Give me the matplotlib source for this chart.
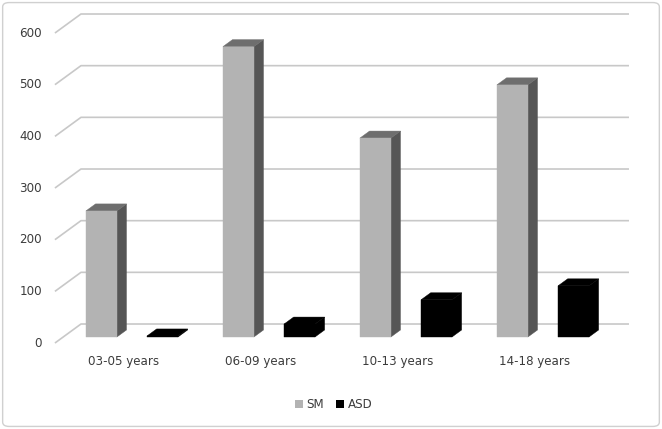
import matplotlib
matplotlib.use('Agg')
import matplotlib.pyplot as plt
from matplotlib.patches import Polygon, Rectangle, Patch, FancyBboxPatch

# 数据
categories = ['03-05 years', '06-09 years', '10-13 years', '14-18 years']
sm_values = [244, 562, 385, 488]
asd_values = [2, 25, 72, 99]
y_ticks = [0, 100, 200, 300, 400, 500, 600]

plt.rcParams['font.family'] = ['DejaVu Sans']
text_color = '#3c3c3c'
grid_color = '#c8c8c8'

fig = plt.figure(figsize=(6.62, 4.29), dpi=100, facecolor='white')
ax = fig.add_axes([0, 0, 1, 1])
# back wall: x in category units, y in value units
ax.set_xlim(-0.591, 4.241)
ax.set_ylim(-203.2, 627.1)
ax.axis('off')

# depth of the 3d box (back wall minus front edge)
dx, dy = 0.19, 36.8
f_front = 0.684     # bar front face position in depth
bar_depth = 0.37
bar_w = 0.226
series = [
    (sm_values, 0.166, '#b3b3b3', '#565656', '#6e6e6e'),
    (asd_values, 0.612, '#000000', '#000000', '#000000'),
]

# 网格线
for v in y_ticks:
    ax.plot([-dx, 0, len(categories)], [v - dy, v, v], color=grid_color, lw=1.2,
            solid_capstyle='butt', zorder=1)
    ax.text(-dx - 0.095, v - dy, str(v), ha='right', va='center',
            fontsize=8.6, color=text_color)

# 柱子
for i in range(len(categories)):
    for vals, off, c_front, c_side, c_top in series:
        val = vals[i]
        fx = i + off - f_front * dx
        fy = -f_front * dy
        ddx, ddy = bar_depth * dx, bar_depth * dy
        top = fy + val
        side = Polygon([(fx + bar_w, fy), (fx + bar_w + ddx, fy + ddy),
                        (fx + bar_w + ddx, top + ddy), (fx + bar_w, top)],
                       closed=True, facecolor=c_side, edgecolor=c_side, lw=0.3, zorder=3)
        lid = Polygon([(fx, top), (fx + bar_w, top), (fx + bar_w + ddx, top + ddy),
                       (fx + ddx, top + ddy)],
                      closed=True, facecolor=c_top, edgecolor=c_top, lw=0.3, zorder=3)
        front = Rectangle((fx, fy), bar_w, val, facecolor=c_front, edgecolor=c_front,
                          lw=0.3, zorder=4)
        ax.add_patch(side)
        ax.add_patch(lid)
        ax.add_patch(front)
    ax.text(i + 0.5 - dx, -dy - 35, categories[i], ha='center', va='center',
            fontsize=8.6, color=text_color)

# 图例
handles = [Patch(facecolor='#b3b3b3'), Patch(facecolor='#000000')]
leg = fig.legend(handles, ['SM', 'ASD'], loc='center', bbox_to_anchor=(0.504, 0.056),
                 ncol=2, frameon=False, fontsize=8.6, handlelength=0.7, handleheight=0.7,
                 handletextpad=0.3, columnspacing=1.0)
for t in leg.get_texts():
    t.set_color(text_color)

# 外框
border = FancyBboxPatch((0.004, 0.006), 0.992, 0.988, boxstyle='round,pad=0,rounding_size=0.01',
                        transform=fig.transFigure, fill=False, edgecolor='#d0d0d0', lw=1.0)
fig.add_artist(border)

fig.savefig('out.png', dpi=100, facecolor='white')
